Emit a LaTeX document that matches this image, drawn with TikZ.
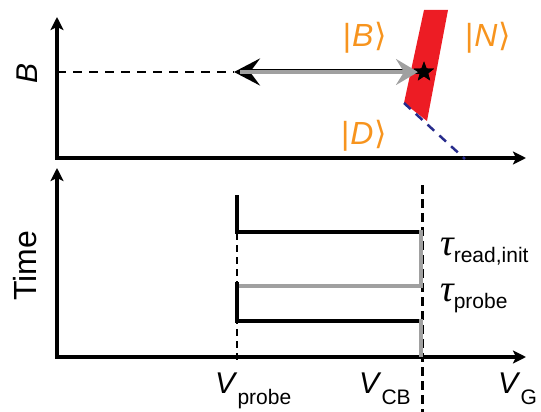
\documentclass[tikz,border=0pt]{standalone}
\usepackage{fontspec}
\setmainfont{Liberation Sans}
\newfontfamily\taufont{Liberation Serif}
\newfontfamily\brfont{DejaVu Sans}
\usetikzlibrary{arrows.meta,shapes.geometric}
\definecolor{lblorange}{RGB}{247,148,30}
\definecolor{bandred}{RGB}{237,28,36}
\definecolor{lgray}{RGB}{160,160,160}
\definecolor{dblue}{RGB}{40,44,140}
\tikzset{
  axisline/.style={line width=3.8pt,{Stealth[length=13pt,width=13pt,inset=3pt]}-{Stealth[length=13pt,width=13pt,inset=3pt]}},
  bigfont/.style={font=\fontsize{30}{36}\selectfont},
  statelbl/.style={text=lblorange,font=\fontsize{32}{38}\selectfont,inner sep=0pt},
  pulseblack/.style={line width=4.5pt,black},
  pulsegray/.style={line width=4.5pt,lgray},
  lbl/.style={inner sep=0pt},
}
\newcommand{\mytau}{{\taufont\itshape\fontsize{38}{40}\selectfont τ}}
\newcommand{\ket}[1]{|\kern1pt\textit{#1}{\brfont\kern1pt ⟩}}
\begin{document}
\begin{tikzpicture}[x=1pt,y=-1pt]
\useasboundingbox (0,0) rectangle (541,412);
% ---- top panel ----
\coordinate (tY) at (57,17);
\coordinate (tO) at (57,158);
\coordinate (tX) at (526,158);
\draw[axisline] (tY) |- (tX);
\node[lbl,rotate=90,font=\fontsize{30}{36}\selectfont\itshape] (Blab) at (27,73) {B};
% red band
\fill[bandred] (424,10) -- (448,10) -- (427,121) -- (404,103) -- cycle;
% blue dashed
\coordinate (dA) at (404,103);
\coordinate (dB) at (465,159);
\draw[dblue,line width=2.5pt,dash pattern=on 9pt off 7pt] (dA) -- (dB);
% dashed level line
\coordinate (bL) at (57,72);
\coordinate (bM) at (234,72);
\node[star,star points=5,star point ratio=2.4,fill=black,minimum size=21pt,inner sep=0pt] (st) at (424,72) {};
\draw[line width=2pt,dash pattern=on 9pt off 7pt] (bL) -- (bM);
\draw[line width=5pt,{Stealth[length=26pt,width=27pt,inset=10pt]}-] (bM) -- (st.center);
\draw[line width=3.4pt,lgray,-{Stealth[length=22pt,width=26pt,inset=8pt]}] (240,72) -- (418,72);
\node[star,star points=5,star point ratio=2.4,fill=black,minimum size=21pt,inner sep=0pt] at (st) {};
\node[statelbl] (Bst) at (365,38) {\ket{B}};
\node[statelbl] (Nst) at (488,38) {\ket{N}};
\node[statelbl] (Dst) at (364,136) {\ket{D}};
% ---- bottom panel ----
\coordinate (bY) at (57,168);
\coordinate (bO) at (57,357);
\coordinate (bX) at (526,357);
\draw[axisline] (bY) |- (bX);
\node[lbl,rotate=90,font=\fontsize{32}{38}\selectfont] (Tlab) at (25,266) {Time};
% dashed verticals
\coordinate (vpT) at (237,233);
\coordinate (vpB) at (237,362);
\draw[line width=2pt,dash pattern=on 7pt off 5pt] (vpT) -- (vpB);
\coordinate (vcT) at (422,185);
\coordinate (vcB) at (422,412);
\draw[line width=3pt,dash pattern=on 9pt off 5pt] (vcT) -- (vcB);
% pulses
\coordinate (p1) at (237,195);
\coordinate (p2) at (237,232);
\coordinate (p3) at (421,232);
\coordinate (p4) at (421,286);
\coordinate (p5) at (237,286);
\coordinate (p6) at (237,282);
\coordinate (p7) at (237,321);
\coordinate (p8) at (421,321);
\coordinate (p9) at (421,357);
\draw[pulseblack] (p1) -- (p2) -- (p3);
\draw[pulsegray] (421,230) -- (p4) -- (p5);
\draw[pulseblack] (p6) -- (p7) -- (p8);
\draw[pulsegray] (421,319) -- (p9);
% labels
\node[lbl,anchor=base west,bigfont] (Vp) at (215,393) {\textit{V}\raisebox{-11pt}{\fontsize{21}{24}\selectfont probe}};
\node[lbl,anchor=base west,bigfont] (Vc) at (359,393) {\textit{V}\raisebox{-11pt}{\fontsize{21}{24}\selectfont CB}};
\node[lbl,anchor=base west,bigfont] (Vg) at (498,393) {\textit{V}\raisebox{-11pt}{\fontsize{21}{24}\selectfont G}};
\node[lbl,anchor=base west] (t1) at (440,255) {\mytau\raisebox{-7pt}{\fontsize{21}{24}\selectfont read,init}};
\node[lbl,anchor=base west] (t2) at (440,301) {\mytau\raisebox{-7pt}{\fontsize{21}{24}\selectfont probe}};
\end{tikzpicture}
\end{document}
